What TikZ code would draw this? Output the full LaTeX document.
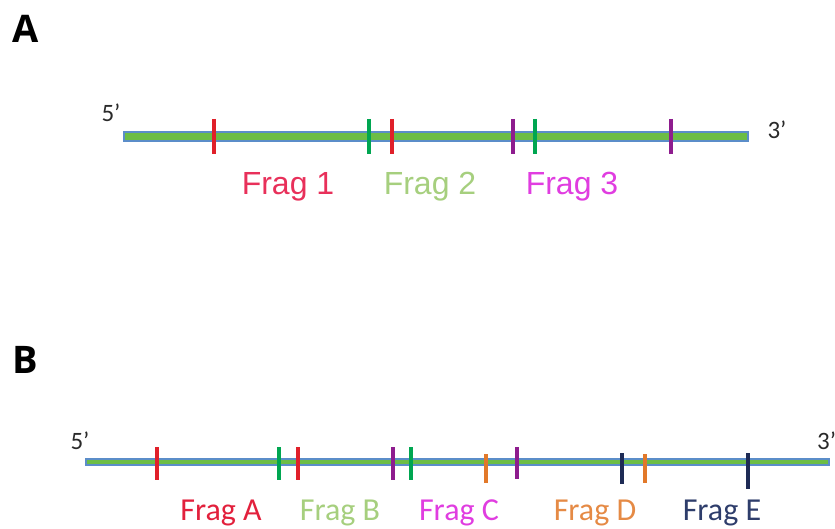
\documentclass[tikz,border=0pt]{standalone}
\usepackage{fontspec}
\setmainfont{Liberation Sans}
\newfontfamily\carlito{Carlito}
\newfontfamily\panelfont{Open Sans}
\definecolor{barfill}{HTML}{6CBD45}
\definecolor{baredge}{HTML}{5B8DC9}
\definecolor{cutred}{HTML}{E0202A}
\definecolor{cutgreen}{HTML}{00A651}
\definecolor{cutpurple}{HTML}{8E1C8E}
\definecolor{cutorange}{HTML}{E2792A}
\definecolor{cutnavy}{HTML}{1E2B55}
\definecolor{txtred}{HTML}{E8305A}
\definecolor{txtredB}{HTML}{E2203C}
\definecolor{txtgreen}{HTML}{A6CF7E}
\definecolor{txtmagenta}{HTML}{E03DE0}
\definecolor{txtorange}{HTML}{E58A45}
\definecolor{txtnavy}{HTML}{2E3D6B}
\definecolor{endgray}{HTML}{2A2A2A}
\begin{document}
\begin{tikzpicture}[x=1pt,y=-1pt,
  dnabar/.style={fill=barfill,draw=baredge,line width=1.2pt},
  cutmark/.style={line width=3.6pt},
  fragA/.style={font=\fontsize{32}{36}\selectfont,anchor=base,inner sep=0pt},
  fragB/.style={font=\carlito\fontsize{32}{36}\selectfont,anchor=base,inner sep=0pt},
  endlabel/.style={font=\carlito\fontsize{25}{28}\selectfont,text=endgray,inner sep=0pt},
  panel/.style={font=\panelfont\bfseries\fontsize{38}{42}\selectfont,anchor=base west,inner sep=0pt}]
\useasboundingbox (0,0) rectangle (835,529);

% ---- panel A ----
\node[panel] (labA) at (12,43) {A};
\draw[dnabar] (124,132) rectangle (748,141);
\foreach \x/\c in {214/cutred,369/cutgreen,392/cutred,513/cutpurple,535/cutgreen,671/cutpurple}
  \draw[cutmark,\c] (\x,119) -- (\x,154);
\node[endlabel] (fiveA) at (111,113) {5’};
\node[endlabel] (threeA) at (777,130) {3’};
\node[fragA,text=txtred] (frag1) at (288,195) {Frag 1};
\node[fragA,text=txtgreen] (frag2) at (430,195) {Frag 2};
\node[fragA,text=txtmagenta] (frag3) at (572,195) {Frag 3};

% ---- panel B ----
\node[panel] (labB) at (12,373) {B};
\draw[dnabar] (86,459) rectangle (829,465);
\foreach \x/\c/\t/\b in {157/cutred/447/480,279/cutgreen/447/480,298/cutred/447/480,
  393/cutpurple/447/480,411/cutgreen/447/480,486/cutorange/454/483,517/cutpurple/447/479,
  622/cutnavy/453/484,645/cutorange/454/483,748/cutnavy/453/489}
  \draw[cutmark,\c] (\x,\t) -- (\x,\b);
\node[endlabel] (fiveB) at (80,441) {5’};
\node[endlabel,anchor=west] (threeB) at (817,441) {3’};
\node[fragB,text=txtredB] (fragA) at (221,520) {Frag A};
\node[fragB,text=txtgreen] (fragB) at (340,520) {Frag B};
\node[fragB,text=txtmagenta] (fragC) at (459,520) {Frag C};
\node[fragB,text=txtorange] (fragD) at (595,520) {Frag D};
\node[fragB,text=txtnavy] (fragE) at (722,520) {Frag E};
\end{tikzpicture}
\end{document}
